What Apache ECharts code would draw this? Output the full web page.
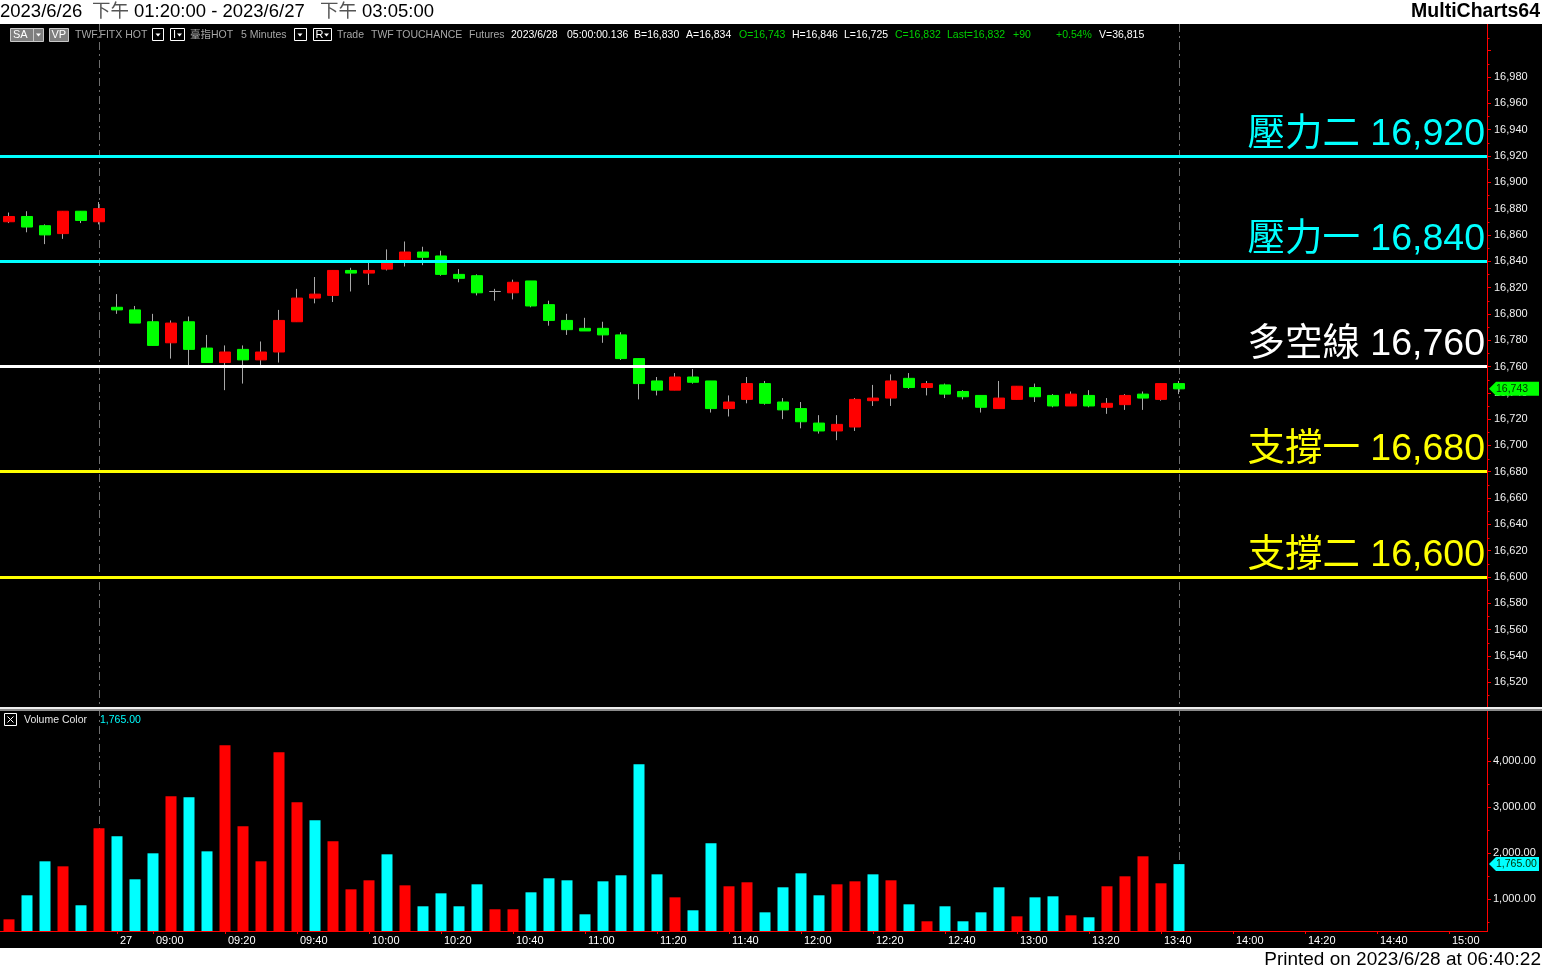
<!DOCTYPE html>
<html><head><meta charset="utf-8">
<script src="https://cdn.jsdelivr.net/npm/echarts@6/dist/echarts.min.js"></script>
<style>html,body{margin:0;padding:0;background:#000;overflow:hidden}#c{width:1542px;height:971px}</style>
</head><body><div id="c"></div>
<script>
// ---- data (5-minute bars, TWF.FITX HOT) ----
const barTimes = ['13:20','13:25','13:30','13:35','13:40','13:45',
 '08:50','08:55','09:00','09:05','09:10','09:15','09:20','09:25','09:30','09:35','09:40','09:45',
 '09:50','09:55','10:00','10:05','10:10','10:15','10:20','10:25','10:30','10:35','10:40','10:45',
 '10:50','10:55','11:00','11:05','11:10','11:15','11:20','11:25','11:30','11:35','11:40','11:45',
 '11:50','11:55','12:00','12:05','12:10','12:15','12:20','12:25','12:30','12:35','12:40','12:45',
 '12:50','12:55','13:00','13:05','13:10','13:15','13:20','13:25','13:30','13:35','13:40','13:45'];
const barOpen  = [16870,16874,16867,16861,16878,16870,16805,16803,16794,16778,16794,16774,16763,16773,16765,16771,16794,16812,16814,16833,16831,16834,16841,16847,16844,16830,16829,16817,16816,16825,16807,16795,16789,16789,16784,16766,16749,16742,16752,16749,16728,16735,16747,16733,16728,16717,16711,16714,16734,16736,16751,16744,16746,16741,16738,16728,16735,16744,16738,16730,16738,16729,16731,16739,16735,16747];
const barClose = [16874,16866,16860,16878,16871,16880,16803,16793,16776,16793,16773,16763,16771,16765,16771,16795,16812,16815,16833,16831,16833,16839,16847,16843,16830,16827,16816,16817,16824,16806,16795,16788,16787,16784,16766,16747,16742,16752,16748,16728,16733,16747,16732,16727,16718,16711,16716,16735,16736,16749,16744,16747,16739,16737,16729,16736,16745,16737,16730,16739,16730,16732,16738,16736,16747,16743];
const barLow   = [16869,16862,16853,16857,16869,16868,16800,16793,16776,16766,16761,16763,16742,16747,16761,16763,16794,16808,16809,16817,16822,16833,16836,16837,16829,16824,16814,16810,16811,16805,16791,16784,16787,16778,16765,16735,16738,16742,16747,16725,16722,16732,16731,16720,16713,16709,16704,16711,16730,16730,16743,16738,16736,16735,16725,16728,16735,16733,16729,16730,16729,16724,16727,16727,16734,16739];
const barHigh  = [16877,16878,16868,16878,16878,16885,16815,16806,16800,16795,16798,16784,16776,16776,16779,16803,16819,16828,16833,16835,16839,16849,16855,16851,16848,16834,16830,16819,16826,16825,16810,16800,16797,16794,16786,16766,16752,16755,16758,16749,16738,16752,16749,16736,16733,16723,16723,16736,16746,16754,16755,16749,16747,16742,16738,16749,16745,16747,16739,16741,16742,16736,16739,16741,16747,16749];
const volume   = [565,1087,1826,1717,870,2543,2370,1435,2000,3239,3217,2043,4348,2587,1826,4196,3109,2717,2261,1217,1413,1978,1304,848,1130,848,1326,783,783,1152,1457,1413,674,1391,1522,3935,1543,1043,761,2217,1283,1370,717,1261,1565,1087,1326,1391,1543,1413,891,522,848,522,717,1261,630,1043,1065,652,609,1283,1500,1935,1348,1765];
const volumeUp = [1,0,0,1,0,1,0,0,0,1,0,0,1,1,1,1,1,0,1,1,1,0,1,0,0,0,0,1,1,0,0,0,0,0,0,0,0,1,0,0,1,1,0,0,0,0,1,1,0,1,0,1,0,0,0,0,1,0,0,1,0,1,1,1,1,0];
const tickSlots  = [6,8,12,16,20,24,28,32,36,40,44,48,52,56,60,64,68,72,76,80];
const tickLabels = ['27','09:00','09:20','09:40','10:00','10:20','10:40','11:00','11:20','11:40','12:00','12:20','12:40','13:00','13:20','13:40','14:00','14:20','14:40','15:00'];
const priceLabels = [16520,16540,16560,16580,16600,16620,16640,16660,16680,16700,16720,16740,16760,16780,16800,16820,16840,16860,16880,16900,16920,16940,16960,16980];
const priceMinorTicks = [16510,16530,16550,16570,16590,16610,16630,16650,16670,16690,16710,16730,16750,16770,16790,16810,16830,16850,16870,16890,16910,16930,16950,16970,16990,17010];
const volumeLabels = [1000,2000,3000,4000];
const volumeMinorTicks = [500,1500,2500,3500,4500];
const levelValues = [16920,16840,16760,16680,16600];
const levelNames  = ['壓力二','壓力一','多空線','支撐一','支撐二'];
const lastPrice = 16743;
const lastVolume = 1765;
const sessionBreakSlots = [5,65];

// ---- styles ----
const levelColors = ['#00FFFF','#00FFFF','#FFFFFF','#FFFF00','#FFFF00'];
const RED='#FF0000', GREEN='#00FF00', CYAN='#00FFFF', WICK='#A8A8A8', AXIS='#FF0000';
const FONT="'Liberation Sans', Arial, sans-serif";
const CJK="'Liberation Sans', 'Noto Sans CJK TC', sans-serif";
const fmtInt = v => Math.round(v).toLocaleString('en-US');
const fmt2 = v => v.toLocaleString('en-US',{minimumFractionDigits:2,maximumFractionDigits:2});

const chart = echarts.init(document.getElementById('c'), null, {renderer:'canvas'});
const X_MIN=-0.5, X_MAX=-0.5+1487/18;

const option = {
  backgroundColor:'#000',
  animation:false,
  grid:[
    {left:0, top:24, width:1487, height:683},
    {left:0, top:711, width:1487, height:220}
  ],
  xAxis:[
    {type:'value', gridIndex:0, min:X_MIN, max:X_MAX, show:false, axisLine:{onZero:false}},
    {type:'value', gridIndex:1, min:X_MIN, max:X_MAX,
     axisLine:{show:true, onZero:false, lineStyle:{color:AXIS,width:1}},
     splitLine:{show:false},
     axisTick:{show:true, customValues:tickSlots, length:3, lineStyle:{color:AXIS}},
     axisLabel:{show:true, customValues:tickSlots, align:'left', margin:4, padding:[0,0,0,3], color:'#FFFFFF', fontSize:11, fontFamily:FONT,
       formatter: v => { const k = tickSlots.indexOf(Math.round(v)); return k>=0 ? tickLabels[k] : ''; }}}
  ],
  yAxis:[
    {type:'value', gridIndex:0, position:'right', min:16501.2, max:17020.3,
     axisLine:{show:true, onZero:false, lineStyle:{color:AXIS,width:1}}, splitLine:{show:false},
     axisTick:{show:true, customValues:priceLabels.concat([17000]), length:4, lineStyle:{color:AXIS}},
     axisLabel:{show:true, customValues:priceLabels, margin:7, color:'#F2F2F2', fontSize:11, fontFamily:FONT, formatter:v=>fmtInt(v)}},
    {type:'value', gridIndex:1, position:'right', min:311, max:5094,
     axisLine:{show:true, onZero:false, lineStyle:{color:AXIS,width:1}}, splitLine:{show:false},
     axisTick:{show:true, customValues:volumeLabels, length:4, lineStyle:{color:AXIS}},
     axisLabel:{show:true, customValues:volumeLabels, margin:6, color:'#F2F2F2', fontSize:11, fontFamily:FONT, formatter:v=>fmt2(v)}}
  ],
  series:[
    {type:'candlestick', name:'wick', xAxisIndex:0, yAxisIndex:0, barWidth:1, silent:true,
     dimensions:['t','open','close','lowest','highest'], encode:{x:0,y:[1,2,3,4]},
     data: barOpen.map((o,i)=>[i,o,barClose[i],barLow[i],barHigh[i]]),
     itemStyle:{color:WICK,color0:WICK,borderColor:WICK,borderColor0:WICK,borderColorDoji:WICK,borderWidth:1}},
    {type:'candlestick', name:'body', xAxisIndex:0, yAxisIndex:0, barWidth:12, silent:true,
     dimensions:['t','open','close','lowest','highest'], encode:{x:0,y:[1,2,3,4]},
     data: barOpen.map((o,i)=>[i,o,barClose[i],Math.min(o,barClose[i]),Math.max(o,barClose[i])]),
     itemStyle:{color:RED,color0:GREEN,borderColor:RED,borderColor0:GREEN,borderColorDoji:WICK,borderWidth:1},
     markLine:{silent:true, symbol:['none','none'], animation:false, z:10,
       data: levelValues.map((v,i)=>({
         yAxis:v,
         lineStyle:{color:levelColors[i], width:3, type:'solid'},
         label:{show:true, position:'insideEndTop', formatter: levelNames[i]+' '+fmtInt(v),
                color:levelColors[i], fontSize:37.5, fontFamily:CJK, distance:[2,3]}
       }))}},
    {type:'bar', name:'Volume Color', xAxisIndex:1, yAxisIndex:1, barWidth:11, silent:true, clip:true,
     data: volume.map((v,i)=>({value:[i,v], itemStyle:{color: volumeUp[i]?RED:CYAN}}))}
  ]
};
chart.setOption(option);

// ---- overlays positioned through the chart's own scales ----
const g = [];
const txt = (text,x,y,fill,size,extra) => Object.assign({type:'text', x:x, y:y, z:200,
  style:Object.assign({text:text, fill:fill, font:(size||10.5)+'px '+FONT, textVerticalAlign:'middle', verticalAlign:'middle'}, extra||{})});
// white header/footer
g.push({type:'rect', z:150, shape:{x:0,y:0,width:1542,height:24}, style:{fill:'#FFFFFF'}});
g.push({type:'rect', z:150, shape:{x:0,y:948,width:1542,height:23}, style:{fill:'#FFFFFF'}});
const TF="18.5px "+CJK;
[['2023/6/26',0,'#000'],['下午',92,'#555'],['01:20:00 - 2023/6/27',134,'#000'],['下午',320,'#555'],['03:05:00',362,'#000']]
  .forEach(a=>g.push({type:'text', x:a[1], y:12, z:200, style:{text:a[0], fill:a[2], font:TF, textVerticalAlign:'middle', verticalAlign:'middle'}}));
g.push({type:'text', x:1540, y:12, z:200, style:{text:'MultiCharts64', fill:'#000', font:"bold 19.5px "+FONT, textAlign:'right', align:'right', textVerticalAlign:'middle', verticalAlign:'middle'}});
g.push({type:'text', x:1541, y:960, z:200, style:{text:'Printed on 2023/6/28 at 06:40:22', fill:'#000', font:"19px "+FONT, textAlign:'right', align:'right', textVerticalAlign:'middle', verticalAlign:'middle'}});
// separator between panes
g.push({type:'rect', z:150, shape:{x:0,y:707,width:1542,height:2}, style:{fill:'#EDEDED'}});
g.push({type:'rect', z:150, shape:{x:0,y:709,width:1542,height:2}, style:{fill:'#8A8A8A'}});
// crisp red axis lines
g.push({type:'line', z:60, shape:{x1:1487.5,y1:24,x2:1487.5,y2:931}, style:{stroke:AXIS, lineWidth:1}});
g.push({type:'line', z:60, shape:{x1:0,y1:931.5,x2:1488,y2:931.5}, style:{stroke:AXIS, lineWidth:1}});
// status bar
const GR='#A6A6A6', WH='#FFFFFF', GN='#00D000';
const tri = (x,y) => ({type:'polygon', z:201, shape:{points:[[x,y-1.5],[x+5,y-1.5],[x+2.5,y+1.5]]}, style:{fill:'#FFFFFF'}});
g.push({type:'rect', z:199, shape:{x:10.5,y:28.5,width:33,height:13}, style:{fill:'#7F7F7F', stroke:'#C8C8C8', lineWidth:1}});
g.push({type:'line', z:200, shape:{x1:33.5,y1:29,x2:33.5,y2:41}, style:{stroke:'#C8C8C8'}});
g.push(txt('SA',13,35,WH,11)); g.push(tri(36,35));
g.push({type:'rect', z:199, shape:{x:49.5,y:28.5,width:19,height:13}, style:{fill:'#7F7F7F', stroke:'#C8C8C8', lineWidth:1}});
g.push(txt('VP',51.5,35,WH,11));
[[152.5,11],[170.5,14],[294.5,12],[313.5,18]].forEach(b=>g.push({type:'rect', z:199, shape:{x:b[0],y:28.5,width:b[1],height:12}, style:{fill:'#000', stroke:'#FFFFFF', lineWidth:1}}));
g.push(tri(155.5,35)); g.push(tri(297.5,35));
g.push(txt('I',173,35,WH,11)); g.push(tri(177,35));
g.push(txt('R',315.5,35,WH,11)); g.push(tri(324,35));
[['TWF.FITX HOT',75,GR],['臺指HOT',190,GR],['5 Minutes',241,GR],['Trade',337,GR],['TWF',371,GR],['TOUCHANCE',396,GR],['Futures',469,GR],
 ['2023/6/28',511,WH],['05:00:00.136',567,WH],['B=16,830',634,WH],['A=16,834',686,WH],['O=16,743',739,GN],['H=16,846',792,WH],
 ['L=16,725',844,WH],['C=16,832',895,GN],['Last=16,832',947,GN],['+90',1013,GN],['+0.54%',1056,GN],['V=36,815',1099,WH]]
 .forEach(a=>g.push({type:'text', x:a[1], y:35, z:200, style:{text:a[0], fill:a[2], font:"10.5px "+CJK, textVerticalAlign:'middle', verticalAlign:'middle'}}));
// volume legend
g.push({type:'rect', z:199, shape:{x:4.5,y:713.5,width:12,height:12}, style:{fill:'#000', stroke:'#FFFFFF', lineWidth:1}});
g.push({type:'line', z:200, shape:{x1:7.5,y1:716.5,x2:13.5,y2:722.5}, style:{stroke:'#FFFFFF'}});
g.push({type:'line', z:200, shape:{x1:13.5,y1:716.5,x2:7.5,y2:722.5}, style:{stroke:'#FFFFFF'}});
g.push(txt('Volume Color',24,720,'#E6E6E6',10.5));
g.push(txt(fmt2(lastVolume),100,720,CYAN,10.5));
// session-break dashed lines
sessionBreakSlots.forEach(s=>{
  const x = Math.round(chart.convertToPixel({xAxisIndex:0}, s))+0.5;
  g.push({type:'line', z:1, shape:{x1:x,y1:24,x2:x,y2:931}, style:{stroke:'#6E6E6E', lineWidth:1, lineDash:[8,4,2,4]}});
});
// minor ticks
priceMinorTicks.forEach(v=>{ const y=Math.round(chart.convertToPixel({yAxisIndex:0}, v))+0.5;
  g.push({type:'line', z:50, shape:{x1:1487,y1:y,x2:1489.5,y2:y}, style:{stroke:AXIS, lineWidth:1}}); });
volumeMinorTicks.forEach(v=>{ const y=Math.round(chart.convertToPixel({yAxisIndex:1}, v))+0.5;
  g.push({type:'line', z:50, shape:{x1:1487,y1:y,x2:1489.5,y2:y}, style:{stroke:AXIS, lineWidth:1}}); });
// last value markers on the axes
const marker = (y,fill,text) => {
  g.push({type:'polygon', z:210, shape:{points:[[1489,y],[1496,y-7],[1539,y-7],[1539,y+7],[1496,y+7]]}, style:{fill:fill}});
  g.push({type:'text', x:1496, y:y, z:211, style:{text:text, fill:'#003000', font:"10.5px "+FONT, textVerticalAlign:'middle', verticalAlign:'middle'}});
};
marker(chart.convertToPixel({yAxisIndex:0}, lastPrice), GREEN, fmtInt(lastPrice));
marker(chart.convertToPixel({yAxisIndex:1}, lastVolume), CYAN, fmt2(lastVolume));
chart.setOption({graphic:{elements:g}});
</script></body></html>
